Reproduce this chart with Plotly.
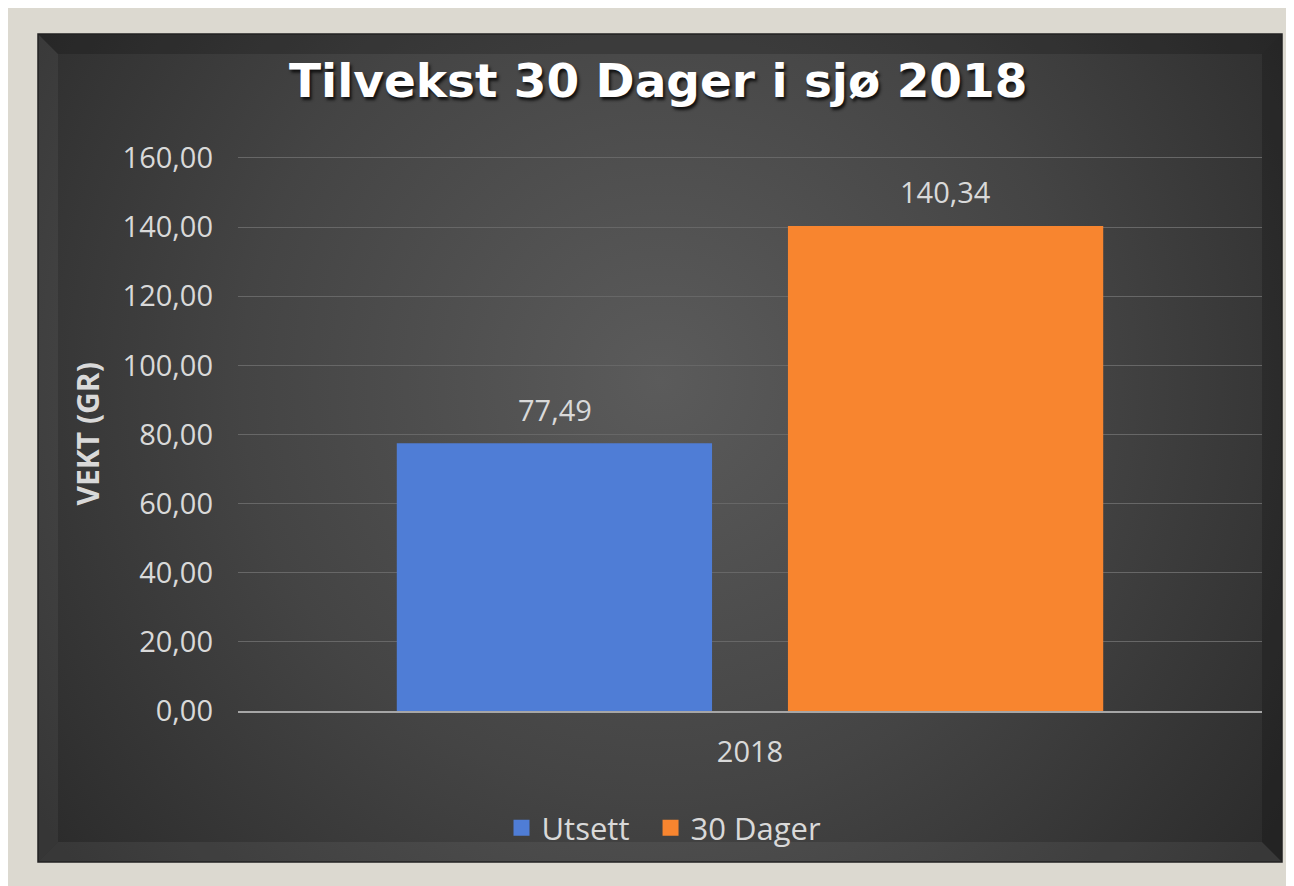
import base64
import plotly.graph_objects as go

# data
categories = ["2018"]
series_names = ["Utsett", "30 Dager"]
series_values = [[77.49], [140.34]]
series_colors = ["#4f7dd6", "#f8852f"]
y_ticks = [0, 20, 40, 60, 80, 100, 120, 140, 160]

# the page body adds an 8px margin, so the figure is drawn 8px in
OFF = 8
W, H = 1294 - OFF, 886 - OFF


def px(sx):
    return (sx - OFF) / W


def py(sy):
    return 1 - (sy - OFF) / H


# background: beige page + dark bevelled frame with radial gradient
fx, fy, fw, fh, b = 38 - OFF, 34 - OFF, 1244, 828, 20
svg = f"""<svg xmlns='http://www.w3.org/2000/svg' width='{W}' height='{H}' viewBox='0 0 {W} {H}'>
<defs>
<radialGradient id='g' cx='{660 - OFF}' cy='{380 - OFF}' r='760' gradientUnits='userSpaceOnUse'>
<stop offset='0' stop-color='#5b5b5b'/>
<stop offset='0.55' stop-color='#444444'/>
<stop offset='1' stop-color='#2c2c2c'/>
</radialGradient>
</defs>
<rect x='0' y='0' width='{W}' height='{H}' fill='#dcd9d0'/>
<rect x='{fx}' y='{fy}' width='{fw}' height='{fh}' fill='url(#g)'/>
<polygon points='{fx},{fy} {fx+fw},{fy} {fx+fw-b},{fy+b} {fx+b},{fy+b}' fill='#000' fill-opacity='0.18'/>
<polygon points='{fx},{fy} {fx+b},{fy+b} {fx+b},{fy+fh-b} {fx},{fy+fh}' fill='#fff' fill-opacity='0.05'/>
<polygon points='{fx+fw},{fy} {fx+fw},{fy+fh} {fx+fw-b},{fy+fh-b} {fx+fw-b},{fy+b}' fill='#000' fill-opacity='0.2'/>
<polygon points='{fx},{fy+fh} {fx+b},{fy+fh-b} {fx+fw-b},{fy+fh-b} {fx+fw},{fy+fh}' fill='#fff' fill-opacity='0.06'/>
<rect x='{fx}' y='{fy}' width='{fw}' height='{fh}' fill='none' stroke='#222' stroke-width='1.5'/>
</svg>"""
bg_uri = "data:image/svg+xml;base64," + base64.b64encode(svg.encode()).decode()

fig = go.Figure()
for name, vals, col in zip(series_names, series_values, series_colors):
    fig.add_trace(go.Bar(
        x=categories,
        y=vals,
        name=name,
        showlegend=False,
        marker=dict(color=col, line=dict(width=0)),
    ))
    # legend-only entry with a bigger square swatch (nbsp pads the gap between entries)
    fig.add_trace(go.Scatter(
        x=[None], y=[None], mode="markers", name=name + "\u00a0\u00a0",
        marker=dict(symbol="square", size=16, color=col),
    ))

# data labels above bars (x given as category index: "2018" would be read as index 2018)
for i, (name, vals) in enumerate(zip(series_names, series_values)):
    for ci, v in enumerate(vals):
        fig.add_annotation(
            x=ci, y=v, text=f"{v:.2f}".replace(".", ","),
            xshift=(-1 if i == 0 else 1) * 195.5, yshift=34,
            showarrow=False, xanchor="center", yanchor="middle",
            font=dict(family="Open Sans", size=29, color="#d9d9d9"),
        )

fig.add_annotation(
    x=px(658), y=py(81), xref="paper", yref="paper",
    xanchor="center", yanchor="middle",
    text="<b>Tilvekst 30 Dager i sjø 2018</b>", showarrow=False,
    font=dict(family="DejaVu Sans", size=47, color="#ffffff",
              shadow="2px 3px 3px #111"),
)

y_top = 160.4
fig.update_layout(
    width=W, height=H,
    autosize=False,
    margin=dict(l=0, r=0, t=0, b=0, pad=0, autoexpand=False),
    paper_bgcolor="#dcd9d0",
    plot_bgcolor="rgba(0,0,0,0)",
    barmode="group",
    bargap=0.236,
    bargroupgap=0.194,
    separators=", ",
    font=dict(family="Open Sans", size=29, color="#d9d9d9"),
    images=[dict(source=bg_uri, xref="paper", yref="paper", x=0, y=1,
                 sizex=1, sizey=1, sizing="stretch", layer="below",
                 xanchor="left", yanchor="top")],
    xaxis=dict(
        type="category", automargin=False, range=[-0.5, 0.5],
        domain=[px(238), px(1262)],
        showgrid=False, showline=True, linecolor="#a6a6a6", linewidth=2,
        ticks="", ticklabelstandoff=14,
        tickfont=dict(family="Open Sans", size=29, color="#d9d9d9"),
    ),
    yaxis=dict(
        automargin=False,
        domain=[py(711), py(711 - 553 / 160 * y_top)],
        range=[0, y_top], tickvals=y_ticks, tickformat=".2f",
        showgrid=True, gridcolor="#676767", gridwidth=1,
        zeroline=False, showline=False, ticks="",
        ticklabelstandoff=24,
        tickfont=dict(family="Open Sans", size=29, color="#d9d9d9"),
        title=dict(text="<b>VEKT (GR)</b>", standoff=14,
                   font=dict(family="Open Sans", size=30, color="#d9d9d9")),
    ),
    legend=dict(
        orientation="h", x=px(672), y=py(828), xanchor="center",
        yanchor="middle", bgcolor="rgba(0,0,0,0)",
        font=dict(family="Open Sans", size=31, color="#d9d9d9"),
    ),
)

fig.write_html("out.html")
